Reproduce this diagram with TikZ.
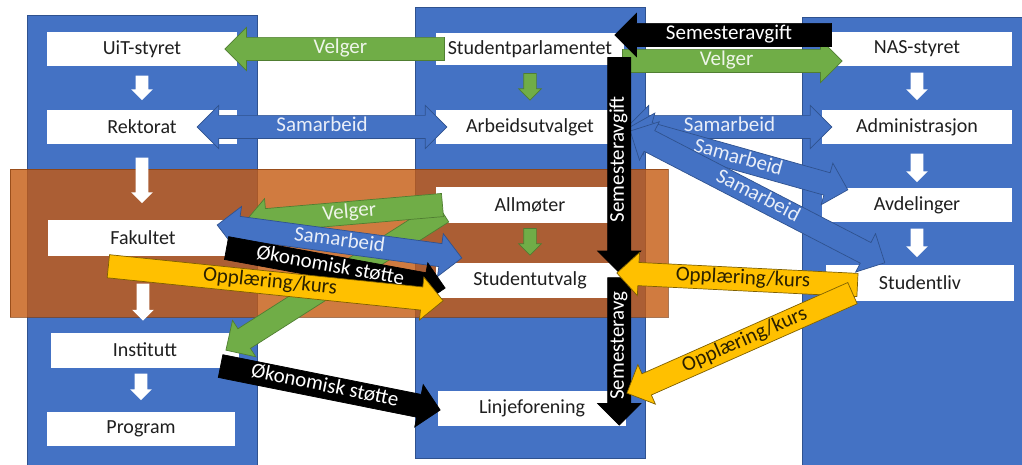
\documentclass[tikz,border=0pt]{standalone}
\usepackage{fontspec}
\setmainfont{Carlito}
\usetikzlibrary{shapes.arrows,calc}
\definecolor{colblue}{HTML}{4472C4}
\definecolor{colblueline}{HTML}{2F528F}
\definecolor{agreen}{HTML}{70AD47}
\definecolor{agreenline}{HTML}{507E32}
\definecolor{ayellow}{HTML}{FFC000}
\definecolor{ayellowline}{HTML}{7F6000}
\definecolor{aorange}{HTML}{C55A11}
\definecolor{orangeline}{HTML}{843C0C}
\definecolor{boxtext}{HTML}{1F1F1F}
\definecolor{ytext}{HTML}{2A2000}

\newcommand\blkR[4]{\path let \p1=(#2), \p2=(#3), \n1={atan2(\y2-\y1,\x2-\x1)}, \n2={veclen(\x2-\x1,\y2-\y1)} in node[blockarr,#1,minimum height=\n2,rotate=\n1,anchor=tail] at (\p1) {#4};}
\newcommand\blkL[4]{\path let \p1=(#2), \p2=(#3), \n1={atan2(\y2-\y1,\x2-\x1)+180}, \n2={veclen(\x2-\x1,\y2-\y1)} in node[blockarr,#1,shape border rotate=180,minimum height=\n2,rotate=\n1,anchor=tail] at (\p1) {#4};}
\newcommand\blkD[4]{\path let \p1=(#2), \p2=(#3), \n1={atan2(\y2-\y1,\x2-\x1)}, \n2={veclen(\x2-\x1,\y2-\y1)} in node[dblarr,#1,minimum height=\n2,rotate=\n1] at ($(\p1)!0.5!(\p2)$) {#4};}

\begin{document}
\begin{tikzpicture}[x=1pt,y=-1pt,
  box/.style={fill=white, text=boxtext, font=\fontsize{20}{24}\selectfont, inner sep=0pt},
  blockarr/.style={single arrow, single arrow head extend=10pt, single arrow tip angle=90,
    inner xsep=3pt, inner ysep=2pt, text height=14pt, text depth=4.5pt,
    font=\fontsize{21}{24}\selectfont, line width=0.7pt},
  dblarr/.style={double arrow, double arrow head extend=10pt, double arrow tip angle=90,
    inner xsep=3pt, inner ysep=2pt, text height=14pt, text depth=4.5pt,
    font=\fontsize{21}{24}\selectfont, line width=0.7pt},
  greenarr/.style={fill=agreen, draw=agreenline, text=white!88!agreen},
  bluearr/.style={fill=colblue, draw=colblueline, text=white!88!colblue},
  blackarr/.style={fill=black, draw=black, text=white},
  yellowarr/.style={fill=ayellow, draw=ayellowline, text=ytext},
  smallw/.style={single arrow head extend=4.5pt, inner xsep=0pt, inner ysep=6pt,
    text height=0pt, text depth=0pt, fill=white, draw=none},
  smallg/.style={single arrow head extend=5pt, inner xsep=0pt, inner ysep=6pt,
    text height=0pt, text depth=0pt, fill=agreen, draw=agreenline},
  column/.style={fill=colblue, draw=colblueline, line width=0.6pt}
]
\useasboundingbox (0,0) rectangle (1022,465);
\fill[white] (0,0) rectangle (1022,465);

% columns
\path[column] (27,15) rectangle (257,466);
\path[column] (415,7) rectangle (645,458);
\path[column] (802,17) rectangle (1023,466);
% orange band
\path[fill=aorange, fill opacity=0.8, draw=orangeline, draw opacity=0.7, line width=0.6pt] (10,169) rectangle (668,317);

% boxes
\node[box, minimum width=190pt, minimum height=34pt] (uit)  at (142,49)  {UiT-styret};
\node[box, minimum width=190pt, minimum height=34pt] (rekt) at (142,127) {Rektorat};
\node[box, minimum width=190pt, minimum height=36pt] (fak)  at (143,238) {Fakultet};
\node[box, minimum width=188pt, minimum height=35pt] (inst) at (145,350) {Institutt};
\node[box, minimum width=188pt, minimum height=34pt] (prog) at (141,429) {Program};

\node[box, minimum width=188pt, minimum height=32pt] (sp)   at (530,49)  {Studentparlamentet};
\node[box, minimum width=188pt, minimum height=34pt] (au)   at (530,127) {Arbeidsutvalget};
\node[box, minimum width=188pt, minimum height=35pt] (allm) at (530,205) {Allmøter};
\node[box, minimum width=188pt, minimum height=35pt] (su)   at (530,280) {Studentutvalg};
\node[box, minimum width=188pt, minimum height=35pt] (lf)   at (532,408) {Linjeforening};

\node[box, minimum width=190pt, minimum height=34pt] (nas)  at (917,49)  {NAS-styret};
\node[box, minimum width=190pt, minimum height=34pt] (adm)  at (917,127) {Administrasjon};
\node[box, minimum width=190pt, minimum height=34pt] (avd)  at (917,205) {Avdelinger};
\node[box, minimum width=188pt, minimum height=36pt] (sl)   at (920,283) {Studentliv};

% small hierarchy arrows
\blkR{smallw}{$(uit.south)+(0,9)$}{$(rekt.north)+(0,-10)$}{}
\blkR{smallw}{$(rekt.south)+(0,13)$}{$(fak.north)+(-1,-17)$}{}
\blkR{smallw}{$(fak.south)+(0,27)$}{$(inst.north)+(-2,-12)$}{}
\blkR{smallw}{$(inst.south)+(-4,5.5)$}{$(prog.north)+(0,-12)$}{}
\blkR{smallg}{$(sp.south)+(0,8)$}{$(au.north)+(0,-10)$}{}
\blkR{smallg}{$(allm.south)+(0,5.5)$}{$(su.north)+(0,-7.5)$}{}
\blkR{smallw}{$(nas.south)+(0,6)$}{$(adm.north)+(0,-10)$}{}
\blkR{smallw}{$(adm.south)+(0,9)$}{$(avd.north)+(0,-6)$}{}
\blkR{smallw}{$(avd.south)+(0,6)$}{$(sl.north)+(-3,-8)$}{}

% green arrows
\blkL{greenarr}{$(sp.west)+(9,0)$}{$(uit.east)+(-12,0)$}{Velger}
\blkR{greenarr}{$(sp.east)+(-2,12)$}{$(nas.west)+(20,12)$}{Velger}
\blkL{greenarr}{$(allm.west)+(7,7)$}{$(inst.east)+(-13,0)$}{}
\blkL{greenarr}{$(allm.west)+(7,0)$}{$(fak.east)+(7,-16)$}{Velger}
% blue arrows
\blkD{bluearr}{$(rekt.east)+(-40,0)$}{$(au.west)+(11,0)$}{Samarbeid}
\blkD{bluearr}{$(au.east)+(3,0)$}{$(adm.west)+(10,0)$}{Samarbeid}
\blkD{bluearr}{$(au.east)+(4,1)$}{$(avd.north west)+(26,2)$}{Samarbeid}
\blkD{bluearr}{$(au.east)+(6,4)$}{$(sl.north west)+(59,-2)$}{Samarbeid}
\blkD{bluearr}{$(fak.east)+(-21,-13)$}{$(su.west)+(26,-22)$}{Samarbeid}
% black arrows
\blkL{blackarr}{$(nas.west)+(10,-14)$}{$(sp.east)+(-9,-14)$}{Semesteravgift}
\blkL{blackarr}{$(sp.south east)+(-5,-8)$}{$(su.north east)+(-5,10)$}{Semesteravgift}
\blkL{blackarr}{$(su.north east)+(-5,15)$}{$(lf.south east)+(-7,-1)$}{Semesteravg}
\blkR{blackarr}{$(fak.east)+(-12,10)$}{$(su.west)+(9,8)$}{Økonomisk støtte}
\blkR{blackarr}{$(inst.east)+(-19,16)$}{$(lf.west)+(2,2)$}{Økonomisk støtte}
% yellow arrows
\blkR{yellowarr}{$(fak.south)+(-35,10)$}{$(su.south west)+(7,3)$}{Opplæring/kurs}
\blkL{yellowarr}{$(sl.west)+(32,2)$}{$(su.east)+(-7,-7)$}{Opplæring/kurs}
\blkL{yellowarr}{$(sl.west)+(27,10)$}{$(lf.east)+(1,-15)$}{Opplæring/kurs}
\end{tikzpicture}
\end{document}
